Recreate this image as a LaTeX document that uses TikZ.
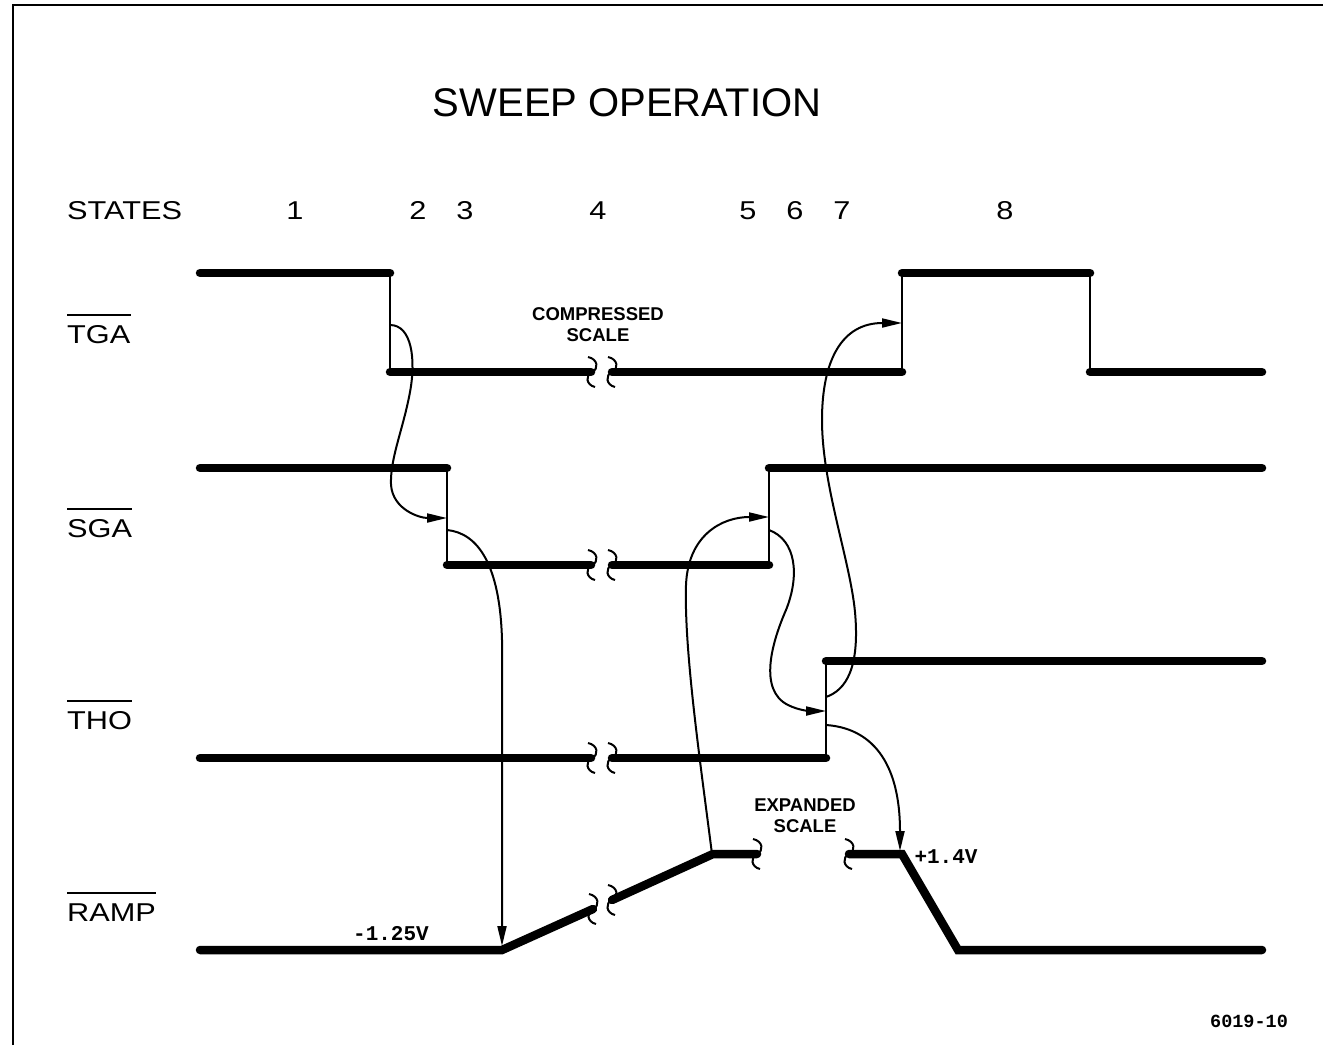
\documentclass[tikz,border=0pt]{standalone}
\usepackage{fontspec}
\usetikzlibrary{arrows.meta}
\newfontfamily\lblfont[FakeStretch=1.19]{Liberation Sans}
\newfontfamily\ttlfont{Liberation Sans}
\newfontfamily\monofont{Liberation Mono}
\begin{document}
\begin{tikzpicture}[x=1bp,y=-1bp,
  sig/.style={line width=8.5bp,line cap=round},
  edge/.style={line width=2bp},
  conn/.style={line width=2bp,-{Triangle[length=20bp,width=9bp]}},
  frame/.style={line width=2.5bp},
  lbl/.style={inner sep=0pt,font=\lblfont\fontsize{25.8bp}{30bp}\selectfont},
  note/.style={inner sep=0pt,font=\ttlfont\bfseries\fontsize{18.5bp}{24bp}\selectfont,align=center},
  volt/.style={inner sep=0pt,font=\monofont\bfseries\fontsize{21bp}{24bp}\selectfont},
  brkmark/.pic={\draw[line width=2bp] (-4,-15) .. controls (6,-13) and (7,-3) .. (0,0) .. controls (-7,3) and (-6,13) .. (3,15);}
]
\useasboundingbox (0,0) rectangle (1323,1045);
\fill[white] (0,0) rectangle (1323,1045);
% frame
\draw[frame] (13,1045) -- (13,5) -- (1323,5);

% title and state numbers
\node[inner sep=0pt,font=\ttlfont\fontsize{40bp}{46bp}\selectfont,anchor=base] (title) at (627,116) {SWEEP OPERATION};
\node[lbl,anchor=base west] (states) at (67,219) {STATES};
\foreach \n/\x in {1/295,2/418,3/465,4/598,5/748,6/795,7/842,8/1005}
  \node[lbl,anchor=base] (st\n) at (\x,219) {\n};

% signal labels with overlines
\node[lbl,anchor=base west] (ltga) at (67,343) {TGA};
\node[lbl,anchor=base west] (lsga) at (67,537) {SGA};
\node[lbl,anchor=base west] (ltho) at (67,729) {THO};
\node[lbl,anchor=base west] (lramp) at (67,921) {RAMP};
\foreach \l in {ltga,lsga,ltho,lramp}
  \draw[line width=1.8bp] ([yshift=10bp]\l.north west) -- ([yshift=10bp]\l.north east);

% TGA
\draw[sig] (200,273) -- (390,273);
\draw[edge] (390,273) -- (390,372);
\draw[sig] (390,372) -- (591,372);
\draw[sig] (612,372) -- (902,372);
\draw[edge] (902,372) -- (902,273);
\draw[sig] (902,273) -- (1090,273);
\draw[edge] (1090,273) -- (1090,372);
\draw[sig] (1090,372) -- (1262,372);
\pic at (592,372) {brkmark};
\pic at (612,372) {brkmark};

% SGA
\draw[sig] (200,468) -- (447,468);
\draw[edge] (447,468) -- (447,565);
\draw[sig] (447,565) -- (591,565);
\draw[sig] (612,565) -- (769,565);
\draw[edge] (769,565) -- (769,468);
\draw[sig] (769,468) -- (1262,468);
\pic at (592,565) {brkmark};
\pic at (612,565) {brkmark};

% THO
\draw[sig] (200,758) -- (591,758);
\draw[sig] (612,758) -- (826,758);
\draw[edge] (826,758) -- (826,661);
\draw[sig] (826,661) -- (1262,661);
\pic at (592,758) {brkmark};
\pic at (612,758) {brkmark};

% RAMP
\draw[sig] (200,950) -- (502,950) -- (593,909);
\draw[sig] (612,900) -- (713,854) -- (757,854);
\draw[sig] (849,854) -- (902,854) -- (958,950) -- (1262,950);
\pic at (593,909) {brkmark};
\pic at (612,900) {brkmark};
\pic at (757,854) {brkmark};
\pic at (849,854) {brkmark};

% annotations
\node[note] (comp) at (598,325) {COMPRESSED\\[-3bp]SCALE};
\node[note] (expd) at (805,816) {EXPANDED\\[-3bp]SCALE};
\node[volt] (vneg) at (391,934) {-1.25V};
\node[volt] (vpos) at (946,857) {+1.4V};
\node[volt,font=\monofont\bfseries\fontsize{18.5bp}{22bp}\selectfont] (fig) at (1249,1021) {6019-10};

% connector end points
\coordinate (tgaFall) at (390,325);
\coordinate (sgaFallIn) at (447,518);
\coordinate (sgaFallOut) at (447,530);
\coordinate (rampStart) at (502,946);
\coordinate (rampTop) at (712,854);
\coordinate (sgaRiseIn) at (769,517);
\coordinate (sgaRiseOut) at (769,530);
\coordinate (thoRiseIn) at (826,711);
\coordinate (thoRiseUp) at (826,697);
\coordinate (thoRiseOut) at (826,725);
\coordinate (tgaRiseIn) at (902,323);
\coordinate (rampFall) at (900,851);

% causal connectors
\draw[conn] (tgaFall) .. controls (412,325) and (416,360) .. (410,392)
  .. controls (403,430) and (390,458) .. (391,485)
  .. controls (393,510) and (420,518) .. (sgaFallIn);
\draw[conn] (sgaFallOut) .. controls (478,533) and (500,565) .. (502,640) -- (rampStart);
\draw[conn] (rampTop) .. controls (700,760) and (684,650) .. (686,585)
  .. controls (688,535) and (722,517) .. (sgaRiseIn);
\draw[conn] (sgaRiseOut) .. controls (796,540) and (800,575) .. (786,610)
  .. controls (772,642) and (758,690) .. (788,705)
  .. controls (800,711) and (812,711) .. (thoRiseIn);
\draw[conn] (thoRiseUp) .. controls (846,690) and (860,668) .. (855,612)
  .. controls (850,560) and (822,485) .. (822,420)
  .. controls (822,360) and (842,323) .. (tgaRiseIn);
\draw[conn] (thoRiseOut) .. controls (870,728) and (900,760) .. (rampFall);
\end{tikzpicture}
\end{document}
